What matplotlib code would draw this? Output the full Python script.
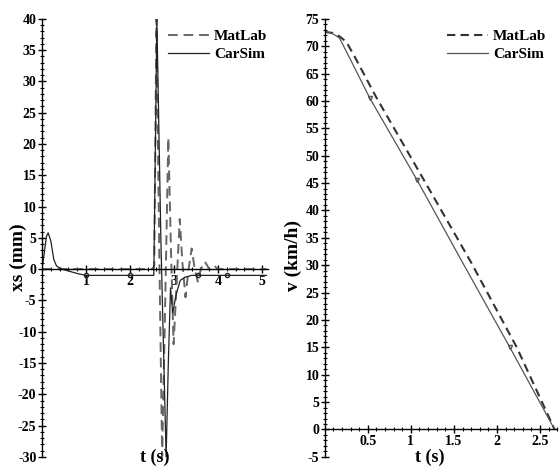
import numpy as np
import matplotlib
matplotlib.use('Agg')
import matplotlib.pyplot as plt
from matplotlib.ticker import MultipleLocator
from matplotlib.lines import Line2D

plt.rcParams['font.family'] = ['Liberation Serif', 'DejaVu Serif']
plt.rcParams['font.weight'] = 'bold'
plt.rcParams['axes.unicode_minus'] = False

# ---- left panel: xs (mm) vs t (s) ----
t_cs_xs = [0, 0.05, 0.1, 0.14, 0.2, 0.27, 0.33, 0.45, 0.6, 0.8, 1.0, 1.5, 2.0,
           2.54, 2.56, 2.61, 2.7, 2.82, 2.87, 2.92, 2.97, 3.05, 3.14, 3.25, 3.4,
           3.55, 4.2, 5.1]
xs_carsim = [0, 2.5, 5.2, 5.8, 4.5, 1.5, 0.5, 0, -0.3, -0.7, -1.0, -1.0, -1.0,
             -1.0, 10, 40, 5, -30, -15, -3, -7, -4, -1.8, -1.3, -1.0,
             -1.0, -1.0, -1.0]
t_ml_xs = [0, 2.5, 2.55, 2.6, 2.66, 2.73, 2.8, 2.87, 2.93, 2.99, 3.06, 3.13,
           3.19, 3.26, 3.33, 3.4, 3.47, 3.54, 3.61, 3.7, 3.8, 3.9, 4.0, 5.1]
xs_matlab = [0, 0, 0.5, 40, 5, -30, -5, 21, 3, -12, -2, 8,
             1, -4.5, 0, 3.3, 0, -2, 0, 1.2, 0, 0.6, 0, 0]

# ---- right panel: v (km/h) vs t (s) ----
t_cs_v = [0, 0.05, 0.1, 0.17, 0.3, 0.52, 1.07, 1.6, 2.15, 2.67]
v_carsim = [72.6, 72.5, 72.2, 71.5, 67.5, 60.6, 45.6, 30.5, 15, 0]
t_ml_v = [0, 0.1, 0.17, 0.25, 0.35, 0.6, 1.15, 1.7, 2.23, 2.67]
v_matlab = [72.6, 72.4, 71.8, 70.8, 68, 60.6, 45.6, 30.5, 15, 0]

legend_names = ['MatLab', 'CarSim']

fig = plt.figure(figsize=(5.6, 4.7), dpi=100)
ax1 = fig.add_axes([0.075, 0.028, 0.404, 0.932])
ax2 = fig.add_axes([0.580, 0.028, 0.415, 0.932])

def maple_axes(ax, xmax, ylo, yhi, xminor, xticks):
    # Maple style: only a left axis and a horizontal axis through zero
    ax.set_xlim(0, xmax)
    ax.set_ylim(ylo, yhi)
    for s in ['top', 'right']:
        ax.spines[s].set_visible(False)
    ax.spines['bottom'].set_position(('data', 0))
    ax.spines['left'].set_linewidth(1.0)
    ax.spines['bottom'].set_linewidth(1.0)
    ax.set_xticks(xticks)
    ax.xaxis.set_minor_locator(MultipleLocator(xminor))
    ax.set_yticks(np.arange(ylo, yhi + 1, 5))
    ax.yaxis.set_minor_locator(MultipleLocator(1))
    ax.tick_params(which='major', direction='inout', length=6, width=1,
                   labelsize=10, pad=1)
    ax.tick_params(which='minor', direction='inout', length=3, width=0.8)

def add_legend(ax, ml_style, cs_style, x0):
    h = [Line2D([], [], **ml_style), Line2D([], [], **cs_style)]
    ax.legend(h, legend_names, loc='upper left', bbox_to_anchor=(x0, 0.99),
              frameon=False, handlelength=2.7, handletextpad=0.3,
              labelspacing=0.3, borderaxespad=0,
              prop={'size': 11, 'weight': 'bold'})

# left
ml1 = dict(color='#666666', lw=1.4, ls=(0, (5, 3)))
cs1 = dict(color='#222222', lw=0.9)
ax1.plot(t_ml_xs, xs_matlab, **ml1)
ax1.plot(t_cs_xs, xs_carsim, marker='o', ms=3, mfc='none',
         markevery=[10, 12, 25, 26], **cs1)
maple_axes(ax1, 5.14, -30, 40, 0.2, [1, 2, 3, 4, 5])
ax1.set_ylabel('xs (mm)', fontsize=14, fontweight='bold')
ax1.yaxis.set_label_coords(-0.065, 0.455)
ax1.text(0.5, -0.002, 't (s)', transform=ax1.transAxes, ha='center',
         va='center', fontsize=13, fontweight='bold')
add_legend(ax1, ml1, cs1, 0.53)

# right
ml2 = dict(color='#333333', lw=1.5, ls=(0, (4, 2.5)))
cs2 = dict(color='#555555', lw=0.9)
ax2.plot(t_ml_v, v_matlab, **ml2)
ax2.plot(t_cs_v, v_carsim, marker='v', ms=3, mfc='none',
         markevery=[5, 6, 8], **cs2)
maple_axes(ax2, 2.70, -5, 75, 0.1, [0.5, 1, 1.5, 2, 2.5])
ax2.set_xticklabels(['0.5', '1', '1.5', '2', '2.5'])
ax2.set_ylabel('v (km/h)', fontsize=14, fontweight='bold')
ax2.yaxis.set_label_coords(-0.10, 0.46)
ax2.text(0.45, -0.002, 't (s)', transform=ax2.transAxes, ha='center',
         va='center', fontsize=13, fontweight='bold')
add_legend(ax2, ml2, cs2, 0.5)

fig.savefig('out.png', dpi=100)
